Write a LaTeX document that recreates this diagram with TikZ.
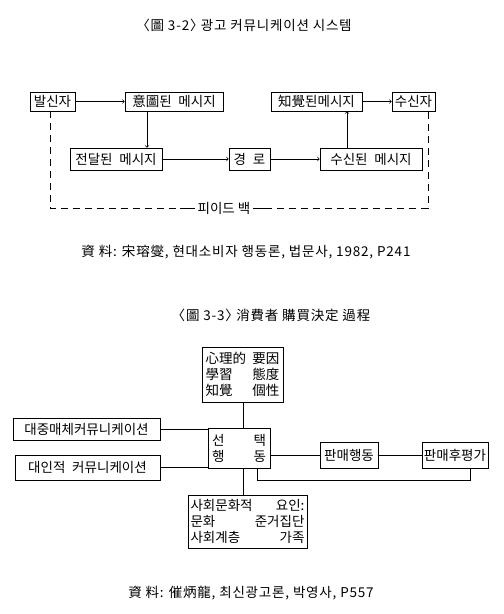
\documentclass[tikz,border=0pt]{standalone}
\usepackage{fontspec}
\setmainfont{Noto Sans CJK KR}
\usetikzlibrary{calc}
\newcommand{\spreadline}[3]{\makebox[#1]{#2\hfill #3}}

\begin{document}
\begin{tikzpicture}[x=1pt,y=-1pt,
  every node/.style={font=\fontsize{13.5}{16}\selectfont},
  headline/.style={font=\fontsize{13.5}{16}\selectfont\addfontfeature{LetterSpace=6}},
  box/.style={draw,line width=0.7pt,inner sep=1pt,minimum height=19pt},
  ln/.style={line width=0.7pt},
  arr/.style={ln,->}]
\useasboundingbox (0,0) rectangle (504,614);
\node[headline] (title1) at (244,25) {〈圖 3-2〉\kern-.2em 광고 커뮤니케이션 시스템};
\node[box,minimum width=45pt] (snd) at (52.5,101.5) {발신자};
\node[box,minimum width=98pt] (intent) at (174,101.5) {意圖된\hspace{0.5em}메시지};
\node[box,minimum width=91pt] (perc) at (316.5,101.5) {知覺된메시지};
\node[box,minimum width=43pt] (rcv) at (413.5,101.5) {수신자};
\node[box,minimum width=92pt,minimum height=22pt] (trans) at (116,159) {전달된\hspace{0.5em}메시지};
\node[box,minimum width=41pt,minimum height=22pt] (chan) at (249.5,159) {경\hspace{0.5em}로};
\node[box,minimum width=102pt,minimum height=22pt] (recd) at (371,159) {수신된\hspace{0.5em}메시지};
\coordinate (dn) at (147,0);
\coordinate (up) at (347,0);
\draw[arr] (snd.east) -- (intent.west);
\draw[arr] (perc.east) -- (rcv.west);
\draw[arr] (intent.south -| dn) -- (trans.north -| dn);
\draw[arr] (trans.east) -- (chan.west);
\draw[arr] (chan.east) -- (recd.west);
\draw[arr] (recd.north -| up) -- (perc.south -| up);
\coordinate (fbl) at (50,208);
\coordinate (fbr) at (428,208);
\draw[ln,dash pattern=on 7pt off 5pt] (snd.south -| fbl) -- (fbl) -- (fbr) -- (rcv.south -| fbr);
\node[fill=white,inner xsep=3pt] (fb) at (224,208) {피이드 백};
\draw[ln] (fb.west) -- ++(-14,0);
\draw[ln] (fb.east) -- ++(14,0);
\node[headline] (cap1) at (246,252) {資 料: 宋瑢燮, 현대소비자 행동론, 법문사, 1982, P241};

\node[headline] (title2) at (271,315) {〈圖 3-3〉\kern-.2em 消費者 購買決定 過程};
\node[box,minimum width=81pt,minimum height=55pt,align=left] (psy) at (242.5,374.5)
  {\spreadline{74pt}{心理的}{要因}\\ \spreadline{74pt}{學習}{態度}\\ \spreadline{74pt}{知覺}{個性}};
\node[box,minimum width=62pt,minimum height=40pt,align=left] (choice) at (239,448)
  {\spreadline{54pt}{선}{택}\\ \spreadline{54pt}{행}{동}};
\node[box,minimum width=147pt,minimum height=22pt] (mass) at (86.5,429) {대중매체커뮤니케이션};
\node[box,minimum width=145pt,minimum height=25pt] (pers) at (87.5,467.5) {대인적\hspace{0.5em}커뮤니케이션};
\node[box,minimum width=58pt,minimum height=26pt] (sale) at (349,455) {판매행동};
\node[box,minimum width=66pt,minimum height=26pt] (post) at (455,455) {판매후평가};
\node[box,minimum width=119pt,minimum height=53pt,align=left] (soc) at (247.5,521.5)
  {\spreadline{114pt}{사회문화적}{요인:}\\ \spreadline{114pt}{문화}{준거집단}\\ \spreadline{114pt}{사회계층}{가족}};
\coordinate (spine) at (243,0);
\draw[ln] (psy.south -| spine) -- (choice.north -| spine);
\draw[ln] (choice.south -| spine) -- (soc.north -| spine);
\draw[ln] (mass.east) -- (mass.east -| choice.west);
\draw[ln] (pers.east) -- (pers.east -| choice.west);
\draw[ln] (sale.west -| choice.east) -- (sale.west);
\draw[ln] (sale.east) -- (post.west);
\draw[ln] ([xshift=18pt]choice.south) -- ++(0,12) -| ([xshift=15pt]post.south);
\node[headline] (cap2) at (251,593) {資 料: 催炳龍, 최신광고론, 박영사, P557};
\end{tikzpicture}
\end{document}
